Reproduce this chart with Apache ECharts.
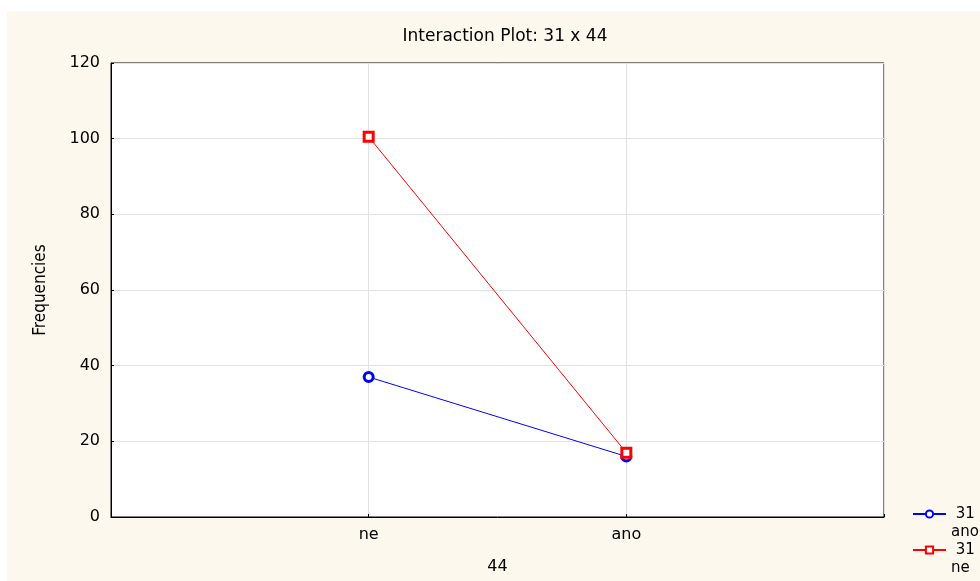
<!DOCTYPE html>
<html>
<head>
<meta charset="utf-8">
<script src="https://cdn.jsdelivr.net/npm/echarts@6/dist/echarts.min.js"></script>
<style>
html,body{margin:0;padding:0;background:#ffffff;width:980px;height:581px;overflow:hidden;}
#c{position:absolute;left:0;top:0;width:980px;height:581px;}
</style>
</head>
<body>
<div id="c"></div>
<script>
const categories = ['', 'ne', 'ano', ''];
const seriesAnoName = '31\nano';
const seriesNeName = '31\nne';
const seriesAno = [null, 37, 16, null];
const seriesNe = [null, 100.5, 17, null];
const yTicks = { min: 0, max: 120, interval: 20 };

const chart = echarts.init(document.getElementById('c'), null, { renderer: 'canvas' });
const font = '"DejaVu Sans", "Liberation Sans", Arial, sans-serif';
const legendText = { fontFamily: font, fontSize: 15, color: '#000', lineHeight: 18 };
const legendFmt = function (name) { return '\n ' + name; };
chart.setOption({
  backgroundColor: 'transparent',
  animation: false,
  graphic: [{
    type: 'rect', left: 7, top: 11, z: -10, silent: true,
    shape: { width: 973, height: 570 }, style: { fill: '#fdf8ee' }
  }],
  title: {
    text: 'Interaction Plot: 31 x 44',
    left: 500, top: 23, textAlign: 'center',
    textStyle: { fontFamily: font, fontSize: 17, fontWeight: 'normal', color: '#000' }
  },
  grid: {
    left: 111, top: 63, right: 96, bottom: 64,
    show: true, backgroundColor: '#ffffff', borderColor: '#000', borderWidth: 1,
    containLabel: false, outerBoundsMode: 'none'
  },
  legend: [
    {
      orient: 'vertical', left: 912, top: 487, padding: 0,
      itemWidth: 33, itemHeight: 9, itemGap: 0,
      data: [seriesAnoName], textStyle: legendText, formatter: legendFmt
    },
    {
      orient: 'vertical', left: 912, top: 523, padding: 0,
      itemWidth: 33, itemHeight: 9, itemGap: 0,
      data: [seriesNeName], textStyle: legendText, formatter: legendFmt
    }
  ],
  xAxis: {
    type: 'category', data: categories, boundaryGap: false,
    name: '44', nameLocation: 'middle', nameGap: 42,
    nameTextStyle: { fontFamily: font, fontSize: 16, color: '#000' },
    axisLine: { show: true, lineStyle: { color: '#000', width: 1 } },
    axisTick: { show: true, inside: true, length: 3, lineStyle: { color: '#000' } },
    axisLabel: { fontFamily: font, fontSize: 16, color: '#000', margin: 10 },
    splitLine: { show: true, lineStyle: { color: '#e2e2e2', width: 1 } }
  },
  yAxis: {
    type: 'value', min: yTicks.min, max: yTicks.max, interval: yTicks.interval,
    name: 'Frequencies', nameLocation: 'middle', nameGap: 62, nameRotate: 90,
    nameTextStyle: { fontFamily: '"Liberation Sans Narrow", "DejaVu Sans Condensed", "Liberation Sans", Arial, sans-serif', fontSize: 17, color: '#000' },
    axisLine: { show: true, lineStyle: { color: '#000', width: 1 } },
    axisTick: { show: true, inside: true, length: 3, lineStyle: { color: '#000' } },
    axisLabel: { fontFamily: font, fontSize: 16, color: '#000', margin: 11 },
    splitLine: { show: true, lineStyle: { color: '#e2e2e2', width: 1 } }
  },
  series: [
    {
      name: seriesAnoName, type: 'line', data: seriesAno, connectNulls: false,
      symbol: 'circle', symbolSize: 9,
      itemStyle: { color: '#ffffff', borderColor: '#0000ff', borderWidth: 3 },
      lineStyle: { color: '#0000ff', width: 1 }
    },
    {
      name: seriesNeName, type: 'line', data: seriesNe, connectNulls: false,
      symbol: 'rect', symbolSize: 9,
      itemStyle: { color: '#ffffff', borderColor: '#ff0000', borderWidth: 3 },
      lineStyle: { color: '#ff0000', width: 1 }
    }
  ]
});
</script>
</body>
</html>
